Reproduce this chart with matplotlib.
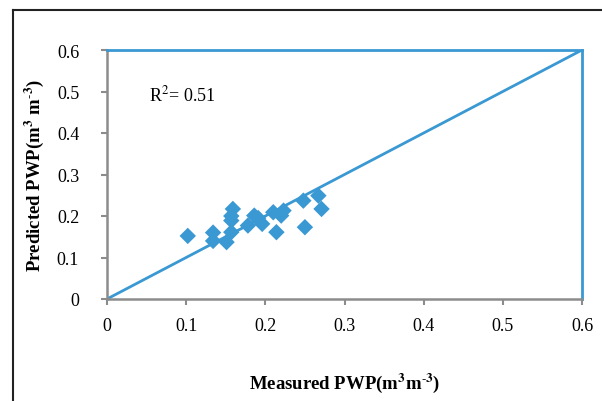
import matplotlib
matplotlib.use('Agg')
import matplotlib.pyplot as plt
from matplotlib.lines import Line2D

plt.rcParams['font.family'] = 'Liberation Serif'
plt.rcParams['mathtext.fontset'] = 'stix'

measured = [0.102, 0.134, 0.134, 0.151, 0.159, 0.157, 0.157, 0.157, 0.178, 0.186,
            0.196, 0.210, 0.223, 0.220, 0.214, 0.248, 0.250, 0.267, 0.271, 0.191]
predicted = [0.152, 0.160, 0.140, 0.137, 0.217, 0.200, 0.189, 0.161, 0.177, 0.201,
             0.181, 0.209, 0.213, 0.201, 0.161, 0.237, 0.173, 0.249, 0.217, 0.195]
ticks = [0, 0.1, 0.2, 0.3, 0.4, 0.5, 0.6]
tick_labels = ['0', '0.1', '0.2', '0.3', '0.4', '0.5', '0.6']
blue = '#3A98D3'
gray = '#8C8C8C'

fig = plt.figure(figsize=(6.02, 4.02), dpi=100)
ax = fig.add_axes([107/602, 1-300/402, 475/602, 249/402])

ax.plot([0, 0.6], [0, 0.6], color=blue, lw=2, zorder=2)
ax.scatter(measured, predicted, marker='D', s=70, color=blue, edgecolors='none', zorder=3)
ax.text(0.053, 0.494, r'R$^2$= 0.51', fontsize=13, va='center')

ax.set_xlim(0, 0.6)
ax.set_ylim(0, 0.6)
ax.set_xticks(ticks)
ax.set_xticklabels(tick_labels)
ax.set_yticks(ticks)
ax.set_yticklabels(tick_labels)
ax.tick_params(direction='out', length=4, width=1.5, color=gray, labelsize=13)
ax.tick_params(axis='x', pad=9)
ax.tick_params(axis='y', pad=16)
for s in ['left', 'bottom']:
    ax.spines[s].set_color(gray)
    ax.spines[s].set_linewidth(1.8)
for s in ['top', 'right']:
    ax.spines[s].set_color(blue)
    ax.spines[s].set_linewidth(2)

ax.set_xlabel(r'Measured PWP(m$^{\mathbf{3}}$m$^{\mathbf{\text{-}3}}$)', fontsize=13.5,
              fontweight='bold', labelpad=26)
ax.set_ylabel(r'Predicted PWP(m$^{\mathbf{3}}$ m$^{\mathbf{\text{-}3}}$)', fontsize=13.5,
              fontweight='bold', labelpad=8)

# outer frame (partly cut off)
fig.add_artist(Line2D([13/602, 13/602], [0, 1-11/402], color='#222222', lw=1.5))
fig.add_artist(Line2D([13/602, 1], [1-11/402, 1-11/402], color='#222222', lw=1.5))

fig.savefig('out.png', dpi=100)
